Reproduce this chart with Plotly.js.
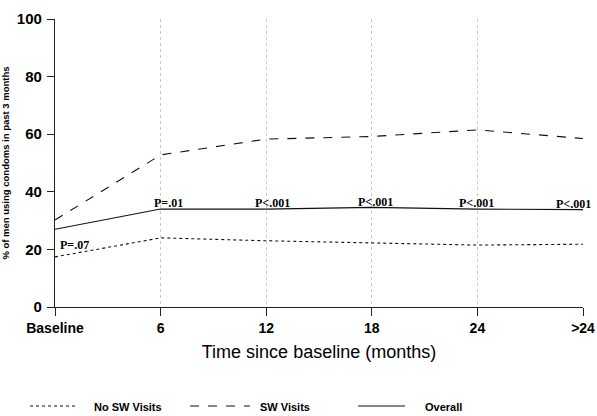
<!DOCTYPE html>
<html><head><meta charset="utf-8">
<script src="https://cdn.plot.ly/plotly-3.0.1.min.js"></script>
<style>body{margin:0;background:#fff}#c{width:597px;height:416px}</style>
</head><body><div id="c"></div>
<script>
const categories = ["Baseline", "6", "12", "18", "24", ">24"];
const noSW = [17.4, 24.0, 23.0, 22.2, 21.5, 21.8];
const sw = [30.2, 52.8, 58.3, 59.2, 61.5, 58.5];
const overall = [27.0, 34.0, 34.0, 34.6, 34.0, 33.8];
const pLabels = ["P=.07", "P=.01", "P<.001", "P<.001", "P<.001", "P<.001"];
const pY = [19.0, 33.6, 33.6, 34.0, 33.6, 33.4];
const seriesNames = ["No SW Visits", "SW Visits", "Overall"];
const seriesDash = ["dot", "dash", "solid"];

const L = 55, R = 14, T = 19, B = 109, W = 597, H = 416;
const pw = W - L - R, ph = H - T - B;
const px = v => (v - L) / pw;
const py = v => (H - B - v) / ph;

const line = (name, y, dash) => ({
  x: categories, y: y, name: name, type: "scatter", mode: "lines",
  line: {color: "#111", width: 1.1, dash: dash}, cliponaxis: false, showlegend: false
});
const data = [
  line(seriesNames[0], noSW, seriesDash[0]),
  line(seriesNames[1], sw, seriesDash[1]),
  line(seriesNames[2], overall, seriesDash[2])
];
const annotations = pLabels.map((t, i) => ({
  x: i, y: pY[i], text: t, showarrow: false,
  xanchor: i === 0 ? "left" : (i === 5 ? "right" : "center"),
  xshift: i === 0 ? 3 : (i === 5 ? 10 : (i === 1 ? 8 : (i === 2 ? 6 : (i === 3 ? 4 : -1)))),
  yanchor: "bottom", yshift: -2,
  font: {family: "Liberation Serif", size: 12, color: "#000", weight: "bold"}
}));
// custom legend row
const legX0 = [30, 190, 358], legX1 = [75, 250, 405], legTx = [92, 258, 423];
const shapes = [];
seriesNames.forEach((n, i) => {
  shapes.push({type: "line", xref: "paper", yref: "paper",
    x0: px(legX0[i]), x1: px(legX1[i]), y0: py(406), y1: py(406),
    line: {color: "#111", width: 1.1, dash: seriesDash[i]}});
  annotations.push({xref: "paper", yref: "paper", x: px(legTx[i]), y: py(407),
    xanchor: "left", yanchor: "middle", text: n, showarrow: false,
    font: {family: "Liberation Sans", size: 11, weight: "bold", color: "#000"}});
});
const layout = {
  width: W, height: H,
  margin: {l: L, r: R, t: T, b: B},
  paper_bgcolor: "#fff", plot_bgcolor: "#fff",
  font: {family: "Liberation Sans", color: "#000"},
  showlegend: false,
  xaxis: {type: "category", range: [0, 5], showline: true, linecolor: "#222", linewidth: 1.2,
    ticks: "outside", ticklen: 8, tickcolor: "#222", showgrid: true, gridcolor: "#c8c8c8",
    griddash: "dot", gridwidth: 1, zeroline: false,
    tickfont: {size: 14, weight: "bold"},
    title: {text: "Time since baseline (months)", font: {size: 18}, standoff: 10}},
  yaxis: {range: [0, 100], tickvals: [0, 20, 40, 60, 80, 100], showline: true, linecolor: "#222",
    linewidth: 1.2, ticks: "outside", ticklen: 7, tickcolor: "#222", showgrid: false, zeroline: false,
    tickfont: {size: 15, weight: "bold"}, ticklabelstandoff: 2,
    title: {text: "% of men using condoms in past 3 months", font: {size: 9.5, weight: "bold"}, standoff: 5}},
  shapes: shapes,
  annotations: annotations
};
Plotly.newPlot("c", data, layout, {displayModeBar: false});
</script></body></html>
